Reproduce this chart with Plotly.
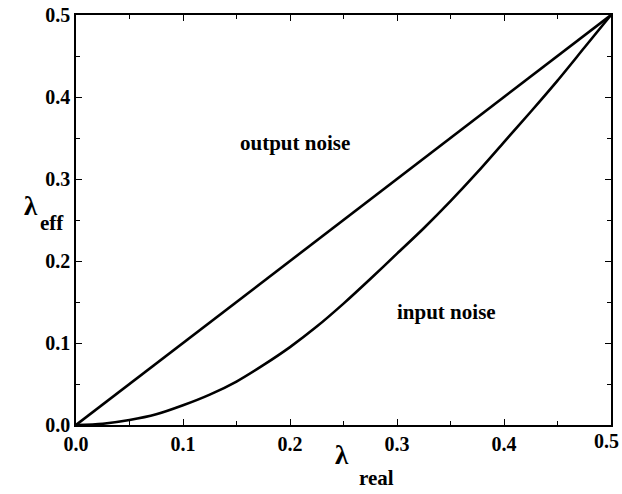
import plotly.graph_objects as go

# Data
lam_real = [0.0, 0.025, 0.05, 0.075, 0.1, 0.125, 0.15, 0.175, 0.2, 0.225, 0.25,
            0.275, 0.3, 0.325, 0.35, 0.375, 0.4, 0.425, 0.45, 0.475, 0.5]
output_noise = [0.0, 0.025, 0.05, 0.075, 0.1, 0.125, 0.15, 0.175, 0.2, 0.225, 0.25,
                0.275, 0.3, 0.325, 0.35, 0.375, 0.4, 0.425, 0.45, 0.475, 0.5]
input_noise = [0.0, 0.0015, 0.006, 0.013, 0.024, 0.037, 0.053, 0.073, 0.095, 0.12, 0.148,
               0.178, 0.209, 0.24, 0.273, 0.308, 0.345, 0.382, 0.42, 0.46, 0.5]
tick_vals = [0.0, 0.1, 0.2, 0.3, 0.4, 0.5]
tick_text = ["0.0", "0.1", "0.2", "0.3", "0.4", "0.5"]

FONT = "Liberation Serif"
TICK_SIZE = 20

fig = go.Figure()
fig.add_trace(go.Scatter(x=lam_real, y=output_noise, mode="lines",
                         line=dict(color="black", width=2.6),
                         name="output noise", showlegend=False))
fig.add_trace(go.Scatter(x=lam_real, y=input_noise, mode="lines",
                         line=dict(color="black", width=2.6, shape="spline", smoothing=0.8),
                         name="input noise", showlegend=False))

axis_common = dict(
    range=[0, 0.5], tickvals=tick_vals,
    ticks="inside", ticklen=6, tickwidth=1, tickcolor="black",
    showline=True, linecolor="black", linewidth=1.5, mirror="ticks",
    showgrid=False, zeroline=False, automargin=False,
    tickfont=dict(family=FONT, size=TICK_SIZE, color="black", weight="bold"),
    minor=dict(ticks="inside", dtick=0.05, ticklen=4, tickwidth=1, tickcolor="black", showgrid=False),
)
# last x label is drawn as an annotation so it stays inside the page edge
fig.update_xaxes(**axis_common, ticktext=tick_text[:-1] + [""], ticklabelstandoff=0)
fig.update_yaxes(**axis_common, ticktext=tick_text)

W, H = 622, 494
L, R, T, B = 75.7, 11, 15, 69
pw, ph = W - L - R, H - T - B


def px(xp, yp):
    return (xp - L) / pw, (H - B - yp) / ph


annotations = [
    dict(x=0.205, y=0.344, text="output noise", showarrow=False, xref="x", yref="y",
         font=dict(family=FONT, size=21, color="black", weight="bold")),
    dict(x=0.346, y=0.138, text="input noise", showarrow=False, xref="x", yref="y",
         font=dict(family=FONT, size=21, color="black", weight="bold")),
    dict(x=px(621, 0)[0], y=px(0, 428)[1], text=tick_text[-1], showarrow=False,
         xref="paper", yref="paper", xanchor="right", yanchor="top",
         font=dict(family=FONT, size=TICK_SIZE, color="black", weight="bold")),
]

label_specs = [
    (31, 206, "λ", 27),
    (52, 223, "eff", 21),
    (342, 455, "λ", 27),
    (376, 478, "real", 21),
]
for xp, yp, txt, size in label_specs:
    ax, ay = px(xp, yp)
    annotations.append(dict(x=ax, y=ay, text=txt, showarrow=False, xref="paper", yref="paper",
                            xanchor="center", yanchor="middle",
                            font=dict(family=FONT, size=size, color="black", weight="bold")))

fig.update_layout(
    width=W, height=H,
    margin=dict(l=L, r=R, t=T, b=B, pad=0),
    paper_bgcolor="white", plot_bgcolor="white",
    annotations=annotations,
    showlegend=False,
)

fig.write_html("out.html")
